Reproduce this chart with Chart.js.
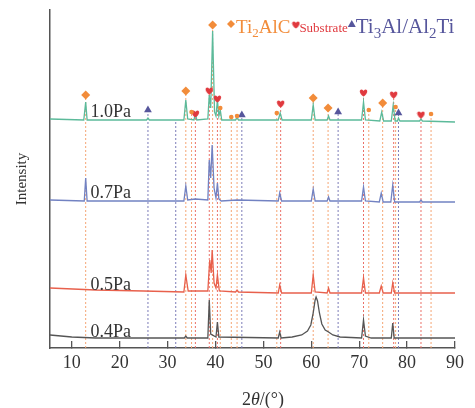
<!DOCTYPE html>
<html>
<head>
<meta charset="utf-8">
<script src="https://cdn.jsdelivr.net/npm/chart.js@4.4.0/dist/chart.umd.min.js"></script>
<style>
  body { margin: 0; background: #fff; }
  canvas { display: block; }
</style>
</head>
<body>
<canvas id="xrd" width="475" height="408"></canvas>
<script>
// 2theta axis
const xTicks = [10, 20, 30, 40, 50, 60, 70, 80, 90];

// XRD traces, stacked with offsets: [2theta, intensity]
const trace10 = [[5.45,229],[12.5,228],[12.9,246],[13.2,228],[25.6,228],[25.9,230],[26.2,228],[33.4,228],[33.8,248],[34.2,229],[35.5,228],[35.8,234],[36.1,228],[38.4,229],[38.7,253],[39.0,240],[39.4,317],[39.8,236],[40.1,232],[40.4,248],[40.7,232],[41.0,238],[41.3,228],[44.2,228],[44.5,231],[44.8,228],[53.1,228],[53.5,235],[53.9,228],[60.0,228],[60.4,243],[60.8,228],[63.3,228],[63.6,232],[63.9,228],[70.5,228],[70.9,246],[71.3,228],[74.3,227],[74.7,236],[75.1,227],[76.7,227],[77.1,243],[77.5,227],[78.0,227],[78.2,230],[78.5,227],[82.6,227],[82.9,229],[83.2,227],[90,226]];
const trace07 = [[5.45,148],[12.6,147],[12.9,170],[13.2,147],[33.4,147],[33.8,162],[34.2,148],[35.8,149],[38.4,148],[38.7,188],[39.0,170],[39.3,203],[39.7,160],[40.1,150],[40.4,165],[40.7,149],[41.2,147],[44.5,148],[53.1,147],[53.4,155],[53.8,147],[60.0,147],[60.4,159],[60.8,147],[63.3,147],[63.6,151],[63.9,147],[70.5,147],[70.9,161],[71.3,147],[74.2,146],[74.6,155],[75.0,146],[76.6,146],[77.0,163],[77.4,146],[82.6,146],[82.9,148],[83.2,146],[90,146]];
const trace05 = [[5.45,60],[15,58],[25,57],[33.4,56],[33.8,73],[34.3,57],[38.4,57],[38.8,88],[39.1,75],[39.3,98],[39.7,65],[40.1,60],[40.4,73],[40.8,57],[44.2,56],[44.5,58],[44.8,56],[53.1,55],[53.4,63],[53.8,55],[60.0,55],[60.4,73],[60.8,56],[63.3,55],[63.6,60],[63.9,55],[70.5,55],[70.9,70],[71.3,55],[74.2,55],[74.6,62],[75.0,55],[76.7,55],[77.0,65],[77.4,55],[90,55]];
const trace04 = [[5.45,13],[10,11],[15,10],[33.5,10],[33.8,12],[34.1,10],[38.4,10],[38.7,48],[39.0,14],[40.1,11],[40.4,26],[40.7,11],[53.1,10],[53.4,16],[53.7,10],[56,11],[58,13],[59.2,17],[59.9,23],[60.4,35],[60.8,48],[61.0,51],[61.3,47],[61.7,35],[62.2,24],[62.9,18],[63.6,16],[64.5,13],[66,11],[70.5,10],[70.9,28],[71.3,12],[72.5,10],[76.7,10],[77.0,25],[77.3,10],[90,10]];

// sample labels: [text, 2theta, intensity]
const sampleLabels = [["1.0Pa", 13.9, 236], ["0.7Pa", 13.9, 155], ["0.5Pa", 13.9, 63], ["0.4Pa", 13.9, 16]];

// phase reflections: 2theta and marker height
const ti2alcPos = [12.9, 33.8, 39.4, 60.4, 63.5, 74.9];
const ti2alcTop = [253, 257, 323, 250, 240, 245];
const ti2alcMinorPos = [35.0, 41.0, 43.3, 44.5, 52.8, 72.0, 77.6, 85.0];
const ti2alcMinorTop = [236, 240, 231, 232, 235, 238, 241, 234];
const substratePos = [35.8, 38.7, 40.4, 53.6, 70.9, 77.2, 82.9];
const substrateTop = [234, 257, 249, 244, 255, 253, 233];
const ti3alPos = [25.9, 45.5, 65.6, 78.2];
const ti3alTop = [238, 233, 236, 235];
const ti3alLinePos = [31.7];
const ti3alLineTop = [228];

const pts = (arr) => arr.map(p => ({ x: p[0], y: p[1] }));
const marks = (xs, ys) => xs.map((x, i) => ({ x: x, y: ys[i] }));
const drops = (xs, ys) => {
    const out = [];
    xs.forEach((x, i) => { out.push({ x: x, y: 0 }, { x: x, y: ys[i] }, { x: x, y: null }); });
    return out;
};

const ORANGE = "#f28c3a", RED = "#e0393e", PURPLE = "#56569c";

// heart point style
const heart = document.createElement("canvas");
heart.width = 9; heart.height = 8;
(function () {
    const h = heart.getContext("2d");
    h.fillStyle = RED;
    h.scale(9 / 11, 8 / 10);
    h.beginPath();
    h.moveTo(5.5, 9.5);
    h.bezierCurveTo(0, 5.5, 0, 0.5, 3, 0.5);
    h.bezierCurveTo(4.5, 0.5, 5.5, 2, 5.5, 2.5);
    h.bezierCurveTo(5.5, 2, 6.5, 0.5, 8, 0.5);
    h.bezierCurveTo(11, 0.5, 11, 5.5, 5.5, 9.5);
    h.fill();
})();

function drawRich(ctx, x, y, parts, size, color) {
    ctx.fillStyle = color;
    ctx.textBaseline = "alphabetic";
    ctx.textAlign = "left";
    parts.forEach(p => {
        if (p.sub) {
            ctx.font = Math.round(size * 0.7) + "px 'Liberation Serif'";
            ctx.fillText(p.t, x, y + size * 0.22);
        } else {
            ctx.font = (p.italic ? "italic " : "") + size + "px 'Liberation Serif'";
            ctx.fillText(p.t, x, y);
        }
        x += ctx.measureText(p.t).width;
    });
    return x;
}

const annotations = {
    id: "annotations",
    afterDatasetsDraw(chart) {
        const ctx = chart.ctx;
        const xs = chart.scales.x, ys = chart.scales.y;
        ctx.save();
        // sample names
        ctx.font = "18px 'Liberation Serif'";
        ctx.fillStyle = "#333";
        ctx.textAlign = "left";
        ctx.textBaseline = "middle";
        sampleLabels.forEach(l => ctx.fillText(l[0], xs.getPixelForValue(l[1]), ys.getPixelForValue(l[2])));

        // top legend
        let x = 227, y = 33;
        ctx.fillStyle = ORANGE;
        ctx.beginPath();
        ctx.moveTo(x + 4, y - 13); ctx.lineTo(x + 8, y - 9); ctx.lineTo(x + 4, y - 5); ctx.lineTo(x, y - 9);
        ctx.closePath(); ctx.fill();
        x = drawRich(ctx, x + 9, y, [{ t: "Ti" }, { t: "2", sub: true }, { t: "AlC" }], 19, ORANGE);
        ctx.drawImage(heart, x + 1, y - 12);
        x = drawRich(ctx, x + 9, y - 1, [{ t: "Substrate" }], 13, RED);
        ctx.fillStyle = PURPLE;
        ctx.beginPath();
        ctx.moveTo(x + 4, y - 13); ctx.lineTo(x + 8, y - 6); ctx.lineTo(x, y - 6);
        ctx.closePath(); ctx.fill();
        drawRich(ctx, x + 8, y, [{ t: "Ti" }, { t: "3", sub: true }, { t: "Al/Al" }, { t: "2", sub: true }, { t: "Ti" }], 21, PURPLE);

        // x axis title
        drawRich(ctx, 242, 405, [{ t: "2" }, { t: "θ", italic: true }, { t: "/(°)" }], 18, "#333");
        ctx.restore();
    }
};

const dotted = (data, color) => ({
    data: data, borderColor: color, borderWidth: 1, borderDash: [2, 2],
    pointRadius: 0, spanGaps: false, order: 5
});
const trace = (data, color) => ({
    data: pts(data), borderColor: color, borderWidth: 1.3, pointRadius: 0, tension: 0, order: 2
});
const marker = (data, style, radius, color) => ({
    data: data, showLine: false, pointStyle: style, pointRadius: radius,
    pointBackgroundColor: color, pointBorderColor: color, pointBorderWidth: 0, order: 1
});

new Chart(document.getElementById("xrd"), {
    type: "line",
    data: {
        datasets: [
            dotted(drops(ti2alcPos, ti2alcTop), "#f5a574"),
            dotted(drops(ti2alcMinorPos, ti2alcMinorTop), "#f5a574"),
            dotted(drops(substratePos, substrateTop), "#ea7068"),
            dotted(drops(ti3alPos, ti3alTop), "#7c7cb8"),
            dotted(drops(ti3alLinePos, ti3alLineTop), "#7c7cb8"),
            trace(trace10, "#5cba9a"),
            trace(trace07, "#7282c2"),
            trace(trace05, "#e8604c"),
            trace(trace04, "#555555"),
            marker(marks(ti2alcPos, ti2alcTop), "rectRot", 4.5, ORANGE),
            marker(marks(ti2alcMinorPos, ti2alcMinorTop), "circle", 2.3, ORANGE),
            marker(marks(substratePos, substrateTop), heart, 4, RED),
            marker(marks(ti3alPos, ti3alTop), "triangle", 4.5, PURPLE),
        ],
    },
    options: {
        responsive: false,
        animation: false,
        devicePixelRatio: 1,
        layout: { padding: { left: 0, right: 16, top: 10, bottom: 0 } },
        plugins: { legend: { display: false }, tooltip: { enabled: false } },
        scales: {
            x: {
                type: "linear",
                min: 5.45,
                max: 90,
                afterBuildTicks: (s) => { s.ticks = xTicks.map(v => ({ value: v })); },
                afterFit: (s) => { s.height = 60; },
                grid: { drawOnChartArea: false, tickLength: -7, color: "#555", lineWidth: 1.3 },
                border: { color: "#555", width: 1.5 },
                ticks: { color: "#333", font: { family: "'Liberation Serif'", size: 18 }, padding: 11, maxRotation: 0 },
            },
            y: {
                min: 0,
                max: 338,
                afterFit: (s) => { s.width = 50; },
                grid: { display: false },
                border: { color: "#555", width: 1.5 },
                ticks: { display: false },
                title: { display: true, text: "Intensity", color: "#333", font: { family: "'Liberation Serif'", size: 15 }, padding: { top: 13, bottom: 0 } },
            },
        },
    },
    plugins: [annotations],
});
</script>
</body>
</html>
